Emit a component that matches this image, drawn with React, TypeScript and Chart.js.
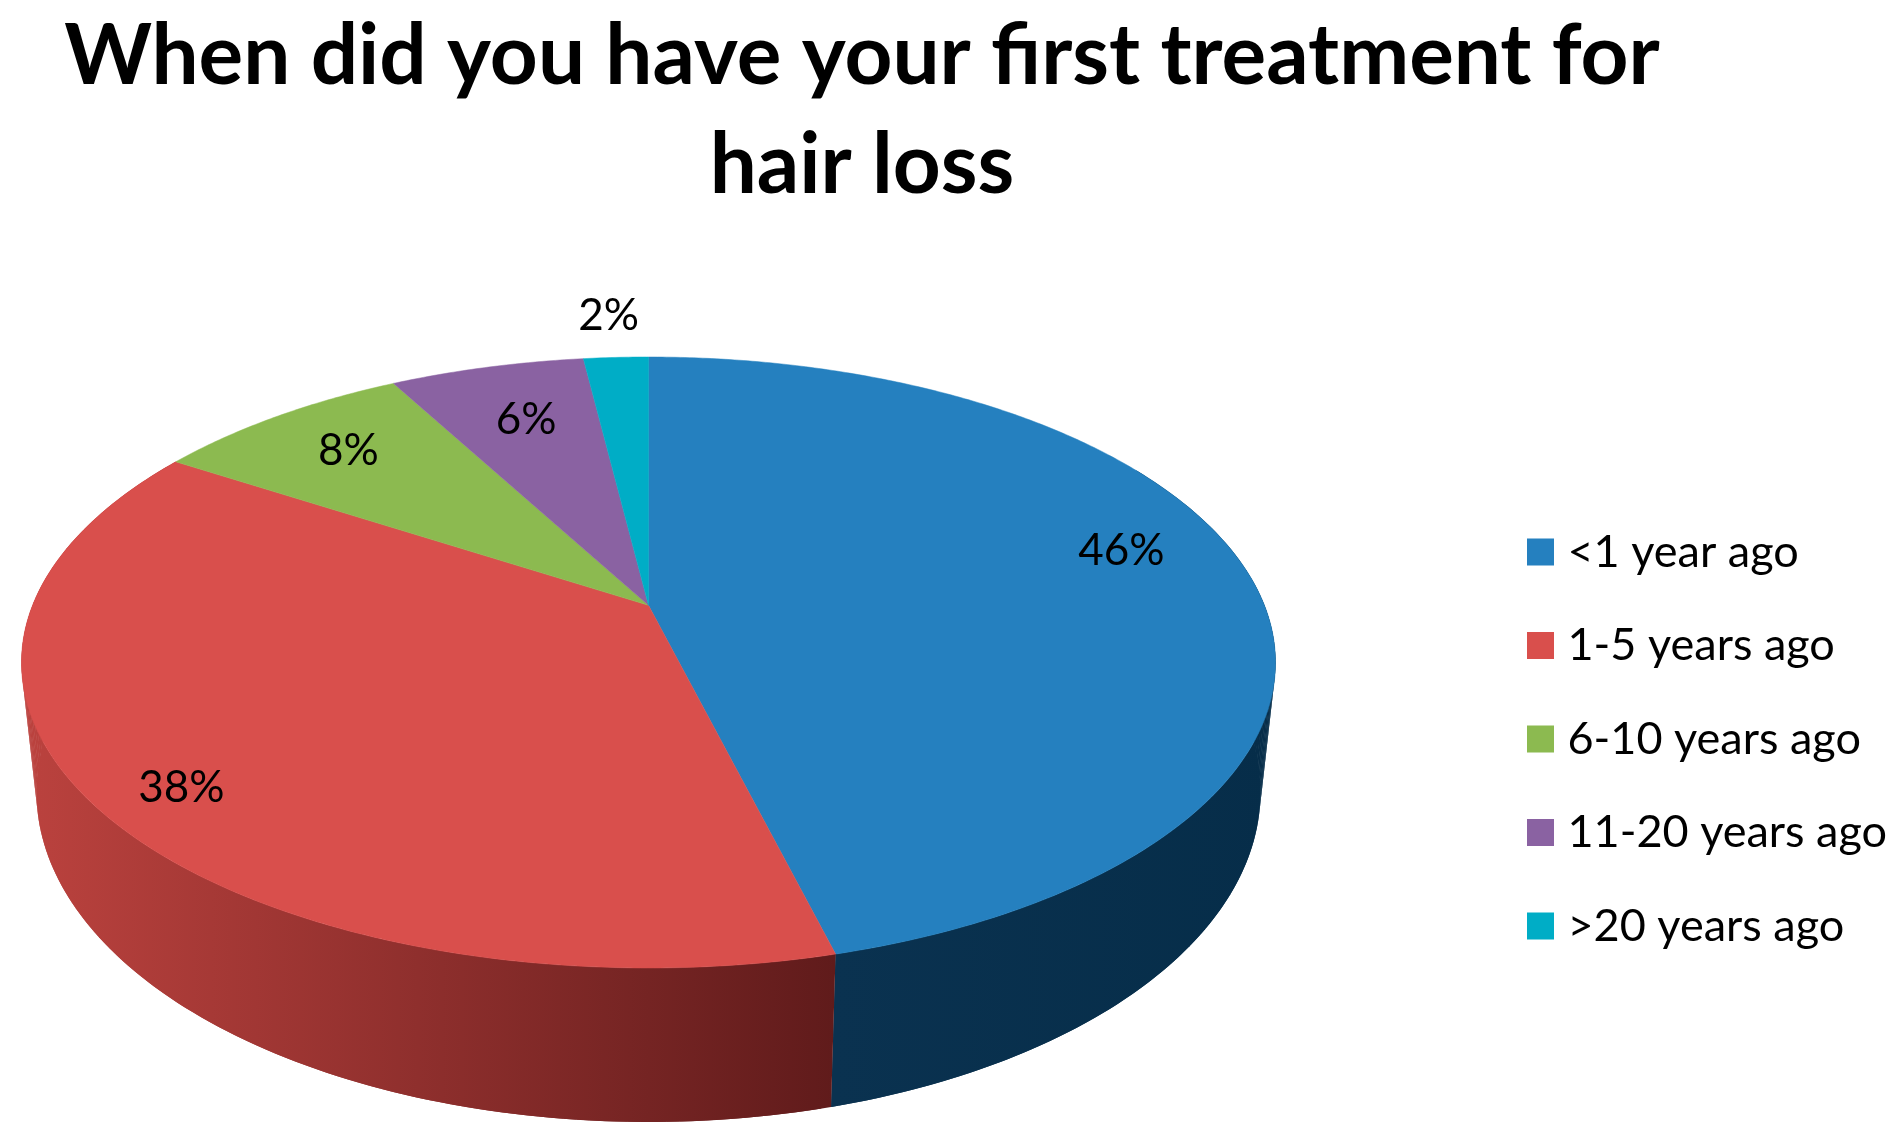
import React, { useEffect, useRef } from "react";
import { Chart, registerables } from "chart.js";

Chart.register(...registerables);

const TITLE_LINES = ["When did you have your first treatment for", "hair loss"];
const CATEGORIES = ["<1 year ago", "1-5 years ago", "6-10 years ago", "11-20 years ago", ">20 years ago"];
const VALUES = [46, 38, 8, 6, 2];
const TOP_COLORS = ["#2580bf", "#d94f4c", "#8cba50", "#8a62a2", "#00adc6"];
const SIDE_LEFT = ["#0a3250", "#bb423e", "#5a7a30", "#5a3f6a", "#007080"];
const SIDE_RIGHT = ["#062d49", "#601b1b", "#5a7a30", "#5a3f6a", "#007080"];
const LABEL_NUDGE = [[-7, -26], [-30, 30], [4, 0], [11, 11], [-13, -85]];

const FONT = "Lato, 'Open Sans', sans-serif";
const W = 1896;
const H = 1143;
const TOP = { cx: 648.5, cy: 662.5, a: 627, b: 305.5 };
const BOTTOM = { cx: 648.5, cy: 792, a: 612, b: 330 };
const K = -0.187;
const S = Math.sqrt(1 - K * K);
const SIDE_X = [[835, 1276], [25, 835]];

type E = { cx: number; cy: number; a: number; b: number };
const project = (e: E, theta: number, r = 1) => {
  const X = r * Math.cos(theta);
  const Y = r * Math.sin(theta);
  const d = 1 + K * Y;
  return { x: e.cx + (e.a * X * S) / d, y: e.cy + (e.b * (Y + K)) / d };
};

const pie3d = {
  id: "pie3d",
  afterLayout(chart: any) {
    const t = chart.titleBlock;
    t.left = 0;
    t.right = 1724;
    const l = chart.legend;
    const pad = l.options.labels.padding;
    l.left = 1536 - pad;
    l.top = 529.5 - pad;
    l.bottom = H;
  },
  beforeDatasetsDraw(chart: any) {
    const ctx = chart.ctx;
    const arcs = chart.getDatasetMeta(0).data;
    const STEP = Math.PI / 180;
    ctx.save();
    // Sides
    arcs.forEach((arc: any, i: number) => {
      if (i > 1) return;
      const from = Math.max(arc.startAngle, -Math.PI / 6);
      const to = arc.endAngle;
      const g = ctx.createLinearGradient(SIDE_X[i][0], 0, SIDE_X[i][1], 0);
      g.addColorStop(0, SIDE_LEFT[i]);
      g.addColorStop(1, SIDE_RIGHT[i]);
      ctx.fillStyle = g;
      ctx.strokeStyle = g;
      ctx.lineWidth = 0.7;
      // Solid base under the ribbon, so that the strips leave no seams
      ctx.beginPath();
      for (let th = from; th < to; th += STEP) {
        const q = project(TOP, th);
        ctx.lineTo(q.x, q.y);
      }
      const ta = project(TOP, to);
      ctx.lineTo(ta.x, ta.y);
      const tb = project(BOTTOM, to);
      ctx.lineTo(tb.x, tb.y);
      for (let th = to; th > from; th -= STEP) {
        const q = project(BOTTOM, th);
        ctx.lineTo(q.x, q.y);
      }
      ctx.closePath();
      ctx.fill();
      for (let th = from; th < to; th += STEP) {
        const next = Math.min(th + STEP, to);
        const p = [project(TOP, th), project(TOP, next), project(BOTTOM, next), project(BOTTOM, th)];
        ctx.beginPath();
        p.forEach((q, n) => (n ? ctx.lineTo(q.x, q.y) : ctx.moveTo(q.x, q.y)));
        ctx.closePath();
        ctx.fill();
      }
    });
    // Top face
    const apex = project(TOP, 0, 0);
    arcs.forEach((arc: any) => {
      ctx.beginPath();
      ctx.moveTo(apex.x, apex.y);
      for (let th = arc.startAngle; th < arc.endAngle; th += STEP / 2) {
        const q = project(TOP, th);
        ctx.lineTo(q.x, q.y);
      }
      const end = project(TOP, arc.endAngle);
      ctx.lineTo(end.x, end.y);
      ctx.closePath();
      ctx.fillStyle = arc.options.backgroundColor;
      ctx.strokeStyle = arc.options.backgroundColor;
      ctx.lineWidth = 0.5;
      ctx.fill();
      ctx.stroke();
    });
    // Value labels
    ctx.fillStyle = "#000";
    ctx.font = `44px ${FONT}`;
    ctx.textAlign = "center";
    ctx.textBaseline = "middle";
    arcs.forEach((arc: any, i: number) => {
      const p = project(TOP, (arc.startAngle + arc.endAngle) / 2, 0.8);
      ctx.fillText(`${VALUES[i]}%`, p.x + LABEL_NUDGE[i][0], p.y + LABEL_NUDGE[i][1]);
    });
    ctx.restore();
    return false;
  },
};

export default function App() {
  const ref = useRef<HTMLCanvasElement>(null);
  useEffect(() => {
    const chart = new Chart(ref.current as HTMLCanvasElement, {
      type: "pie",
      data: {
        labels: CATEGORIES,
        datasets: [{ data: VALUES, backgroundColor: TOP_COLORS, borderWidth: 0 }],
      },
      plugins: [pie3d],
      options: {
        responsive: false,
        animation: false,
        layout: { padding: 0 },
        plugins: {
          tooltip: { enabled: false },
          title: {
            display: true,
            text: TITLE_LINES,
            color: "#000",
            padding: { top: 2, bottom: 10 },
            font: { family: FONT, size: 83.6, weight: "bold", lineHeight: 1.31 },
          },
          legend: {
            display: true,
            position: "right",
            align: "start",
            labels: {
              color: "#000",
              font: { family: FONT, size: 45 },
              boxWidth: 9,
              boxHeight: 9,
              padding: 48.5,
              generateLabels: () =>
                CATEGORIES.map((text, i) => ({
                  text,
                  index: i,
                  fillStyle: TOP_COLORS[i],
                  strokeStyle: TOP_COLORS[i],
                  lineWidth: 18,
                  hidden: false,
                })),
            },
          },
        },
      },
    } as any);
    return () => chart.destroy();
  }, []);
  return (
    <div style={{ position: "absolute", left: 0, top: 0, width: W, height: H, background: "#fff" }}>
      <canvas ref={ref} width={W} height={H} style={{ display: "block" }} />
    </div>
  );
}
